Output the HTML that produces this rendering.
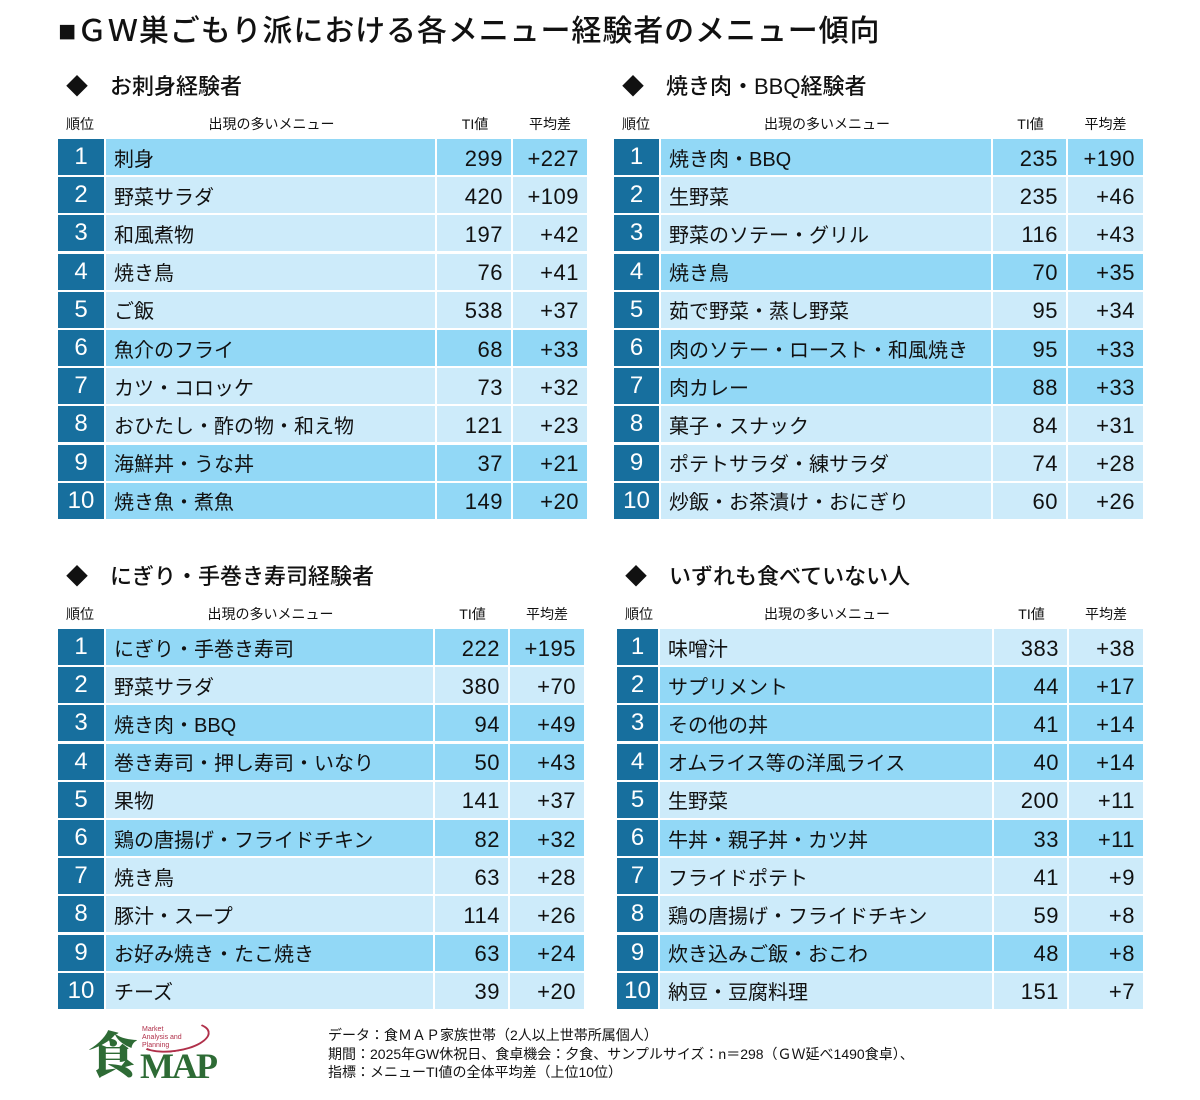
<!DOCTYPE html>
<html><head><meta charset="utf-8">
<style>
body{margin:0;background:#fff;width:1200px;height:1100px;position:relative;overflow:hidden;font-family:"Liberation Sans","Noto Sans CJK JP",sans-serif;color:#111}
.abs{position:absolute}
.title{left:58px;top:6px;font-size:30px;font-weight:500;white-space:nowrap;letter-spacing:0.9px}
.sec{font-size:22px;font-weight:500;white-space:nowrap}
.hdr{font-size:14px;white-space:nowrap}
.cell{position:absolute;box-sizing:border-box;display:flex;align-items:center;font-size:20px;white-space:nowrap}
.num{font-size:22px;padding-top:3px;letter-spacing:0.5px}
.rank{background:#176f9e;color:#fff;justify-content:center;font-size:24px}
.foot{left:328px;top:1026px;font-size:14px;line-height:18.5px;white-space:nowrap}
</style></head><body>
<div class="abs title">■ＧＷ巣ごもり派における各メニュー経験者のメニュー傾向</div>
<div id="root"></div>
<div class="abs" style="left:88px;top:1022px;width:150px;height:65px">
  <div class="abs" style="left:0;top:2px;font-family:'Noto Serif CJK SC',serif;font-size:50px;font-weight:900;color:#2e6b35;line-height:56px">食</div>
  <div class="abs" style="left:52px;top:26px;font-family:'Liberation Serif',serif;font-size:36px;font-weight:bold;color:#2e6b35;line-height:36px;letter-spacing:-2px">MAP</div>
  <div class="abs" style="left:54px;top:4px;font-size:7px;line-height:8px;color:#b0304a">Market<br>Analysis and<br>Planning</div>
  <div class="abs" style="left:50px;top:0;width:68px;height:26px;border:2px solid #b0304a;border-radius:50%;border-color:transparent #b0304a #b0304a transparent;transform:rotate(-8deg)"></div>
</div>
<div class="abs foot">データ：食ＭＡＰ家族世帯（2人以上世帯所属個人）<br>期間：2025年GW休祝日、食卓機会：夕食、サンプルサイズ：n＝298（ＧＷ延べ1490食卓）、<br>指標：メニューTI値の全体平均差（上位10位）</div>
<script>
const tableTitles=["お刺身経験者","焼き肉・BBQ経験者","にぎり・手巻き寿司経験者","いずれも食べていない人"];
const menusTL=["刺身","野菜サラダ","和風煮物","焼き鳥","ご飯","魚介のフライ","カツ・コロッケ","おひたし・酢の物・和え物","海鮮丼・うな丼","焼き魚・煮魚"];
const tiTL=[299,420,197,76,538,68,73,121,37,149];
const diffTL=[227,109,42,41,37,33,32,23,21,20];
const hiTL=[1,6,9,10];
const menusTR=["焼き肉・BBQ","生野菜","野菜のソテー・グリル","焼き鳥","茹で野菜・蒸し野菜","肉のソテー・ロースト・和風焼き","肉カレー","菓子・スナック","ポテトサラダ・練サラダ","炒飯・お茶漬け・おにぎり"];
const tiTR=[235,235,116,70,95,95,88,84,74,60];
const diffTR=[190,46,43,35,34,33,33,31,28,26];
const hiTR=[1,4,6,7];
const menusBL=["にぎり・手巻き寿司","野菜サラダ","焼き肉・BBQ","巻き寿司・押し寿司・いなり","果物","鶏の唐揚げ・フライドチキン","焼き鳥","豚汁・スープ","お好み焼き・たこ焼き","チーズ"];
const tiBL=[222,380,94,50,141,82,63,114,63,39];
const diffBL=[195,70,49,43,37,32,28,26,24,20];
const hiBL=[1,3,4,6,9];
const menusBR=["味噌汁","サプリメント","その他の丼","オムライス等の洋風ライス","生野菜","牛丼・親子丼・カツ丼","フライドポテト","鶏の唐揚げ・フライドチキン","炊き込みご飯・おこわ","納豆・豆腐料理"];
const tiBR=[383,44,41,40,200,33,41,59,48,151];
const diffBR=[38,17,14,14,11,11,9,8,8,7];
const hiBR=[2,3,4,6,9];

const tables=[
 {m:menusTL,t:tiTL,d:diffTL,h:hiTL,x:58,y:139,w:[48,331,76,74]},
 {m:menusTR,t:tiTR,d:diffTR,h:hiTR,x:614,y:139,w:[47,332,75,75]},
 {m:menusBL,t:tiBL,d:diffBL,h:hiBL,x:58,y:629,w:[48,329,75,74]},
 {m:menusBR,t:tiBR,d:diffBR,h:hiBR,x:617,y:629,w:[43,334,75,74]}
];
const root=document.getElementById('root');
const pitch=38.2;
tables.forEach((tb,ti)=>{
  const s=document.createElement('div');
  s.className='abs sec';
  
  
  s.style.left=(tb.x+8)+'px';s.style.top=(tb.y-70)+'px';
  s.textContent='◆　'+tableTitles[ti];
  root.appendChild(s);
  const hx=[tb.x,tb.x+tb.w[0],tb.x+tb.w[0]+tb.w[1],tb.x+tb.w[0]+tb.w[1]+tb.w[2]];
  const hl=['順位','出現の多いメニュー','TI値','平均差'];
  hl.forEach((t,i)=>{
    const h=document.createElement('div');
    h.className='abs hdr';
    
    
    h.style.left=hx[i]+'px';h.style.width=(i==0?44:tb.w[i])+'px';h.style.textAlign='center';
    h.style.top=(tb.y-25)+'px';
    h.textContent=t;root.appendChild(h);
  });
  for(let r=0;r<10;r++){
    const y=tb.y+r*pitch;
    const bg=tb.h.includes(r+1)?'#92d8f6':'#cdebfa';
    const vals=[String(r+1),tb.m[r],String(tb.t[r]),'+'+tb.d[r]];
    let x=tb.x;
    for(let c=0;c<4;c++){
      const e=document.createElement('div');
      e.className='cell'+(c==0?' rank':'')+(c>=2?' num':'');
      
      
      e.style.left=x+'px';e.style.top=y+'px';
      e.style.width=(tb.w[c]-(c<3?2:0))+'px';e.style.height=(pitch-2.2)+'px';
      if(c>0)e.style.background=bg;
      if(c==1)e.style.paddingLeft='8px';
      if(c>=2){e.style.justifyContent='flex-end';e.style.paddingRight='8px';}
      e.textContent=vals[c];
      root.appendChild(e);
      x+=tb.w[c];
    }
  }
});
</script>
</body></html>
